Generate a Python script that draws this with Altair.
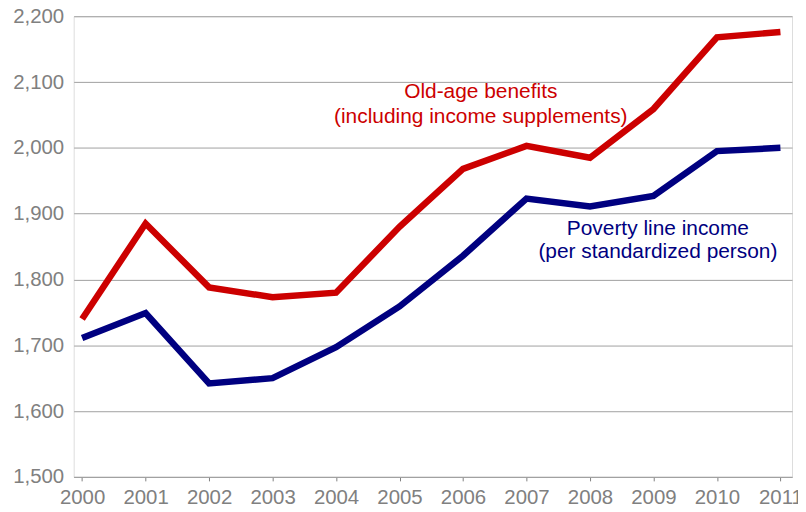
import altair as alt
import pandas as pd

years = list(range(2000, 2012))
old_age = [1740, 1885, 1788, 1773, 1780, 1880, 1968, 2003, 1985, 2059, 2168, 2176]
poverty = [1711, 1749, 1642, 1650, 1697, 1759, 1836, 1923, 1911, 1927, 1995, 2000]
y_ticks = [1500, 1600, 1700, 1800, 1900, 2000, 2100, 2200]

series_names = ["Old-age benefits", "Poverty line income"]
colors = ["#CC0000", "#000080"]

rows = []
for y, a, b in zip(years, old_age, poverty):
    rows.append({"year": y, "value": a, "series": series_names[0]})
    rows.append({"year": y, "value": b, "series": series_names[1]})
df = pd.DataFrame(rows)

FONT = "Liberation Sans"
GRAY = "#808080"

x_scale = alt.Scale(domain=[1999.867, 2011.183], nice=False, zero=False)
y_scale = alt.Scale(domain=[1500, 2200], nice=False, zero=False)

lines = alt.Chart(df).mark_line(strokeWidth=6.5, strokeCap="butt", strokeJoin="miter").encode(
    x=alt.X("year:Q", scale=x_scale,
            axis=alt.Axis(values=years, format="d", title=None, grid=False,
                          labelFontSize=20.5, labelColor=GRAY, labelFont=FONT,
                          tickSize=4, tickColor=GRAY, domainColor="#a0a0a0",
                          labelPadding=7, labelFlush=False)),
    y=alt.Y("value:Q", scale=y_scale,
            axis=alt.Axis(values=y_ticks, format=",d", title=None, grid=True,
                          gridColor="#a0a0a0", gridWidth=1, domain=False, ticks=False,
                          labelFontSize=20.5, labelColor=GRAY, labelFont=FONT,
                          labelPadding=10)),
    color=alt.Color("series:N", scale=alt.Scale(domain=series_names, range=colors), legend=None),
    detail="series:N",
)

red_label = pd.DataFrame({"year": [2006.28], "value": [2076],
                          "text": [["Old-age benefits", "(including income supplements)"]]})
blue_label = pd.DataFrame({"year": [2009.07], "value": [1868],
                           "text": [["Poverty line income", "(per standardized person)"]]})

red_text = alt.Chart(red_label).mark_text(
    font=FONT, fontSize=21, color=colors[0], align="center", baseline="alphabetic", lineHeight=25
).encode(x=alt.X("year:Q", scale=x_scale), y=alt.Y("value:Q", scale=y_scale), text="text")

blue_text = alt.Chart(blue_label).mark_text(
    font=FONT, fontSize=21, color=colors[1], align="center", baseline="alphabetic", lineHeight=23
).encode(x=alt.X("year:Q", scale=x_scale), y=alt.Y("value:Q", scale=y_scale), text="text")

chart = alt.layer(lines, red_text, blue_text).properties(
    width=722, height=463,
    autosize=alt.AutoSizeParams(type="none"),
    padding={"left": 66, "top": 7, "right": 6, "bottom": 30},
).configure_view(stroke=None).configure(background="white")

chart.save("out.html", embed_options={"renderer": "svg", "actions": False})
